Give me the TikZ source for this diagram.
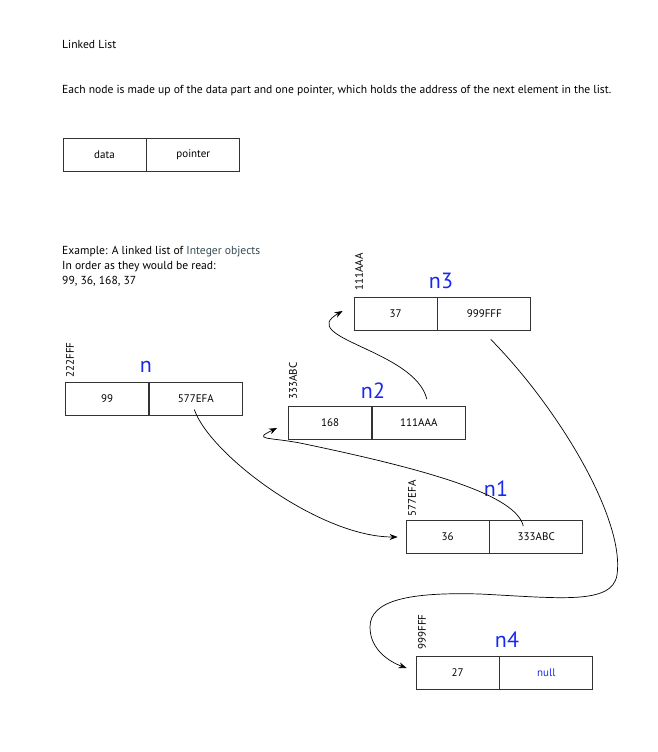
\documentclass[tikz,border=0pt]{standalone}
\usepackage{fontspec}
\setmainfont{PT Sans}
\usetikzlibrary{arrows.meta, positioning}
\definecolor{listblue}{RGB}{25,40,240}
\definecolor{slate}{RGB}{55,75,85}

\begin{document}
\begin{tikzpicture}[x=1pt, y=-1pt,
    cell/.style={rectangle, draw=black!80, line width=0.8pt, minimum height=33pt, inner sep=0pt, font=\fontsize{11}{13}\selectfont},
    datacell/.style={cell, minimum width=83pt},
    ptrcell/.style={cell, minimum width=93pt},
    listname/.style={font=\fontsize{22}{24}\selectfont, text=listblue, inner sep=0pt},
    address/.style={rotate=90, font=\fontsize{11}{13}\selectfont, inner sep=0pt},
    note/.style={font=\fontsize{11.6}{15}\selectfont, inner sep=0pt, anchor=west, align=left},
    link/.style={-{Stealth[length=8pt, width=6pt]}, line width=0.7pt}
]
\useasboundingbox (0,0) rectangle (657,752);

% Heading and explanation
\node[note] (title) at (62,44) {Linked List};
\node[note] (intro) at (62,91) {Each node is made up of the data part and one pointer, which holds the address of the next element in the list.};

% Layout of one node
\node[datacell] (demodata) at (104.5,154.5) {data};
\node[ptrcell, right=0pt of demodata] (demoptr) {pointer};

\node[note] (example) at (62,266) {Example: A linked list of \textcolor{slate}{Integer objects}\\In order as they would be read:\\99, 36, 168, 37};

% List nodes
\node[datacell] (ndata) at (107,398.5) {99};
\node[ptrcell, right=0pt of ndata] (nptr) {577EFA};
\node[datacell] (n2data) at (330,423) {168};
\node[ptrcell, right=0pt of n2data] (n2ptr) {111AAA};
\node[datacell] (n3data) at (395.5,313.5) {37};
\node[ptrcell, right=0pt of n3data] (n3ptr) {999FFF};
\node[datacell] (n1data) at (447.5,537) {36};
\node[ptrcell, right=0pt of n1data] (n1ptr) {333ABC};
\node[datacell] (n4data) at (457.5,672.5) {27};
\node[ptrcell, right=0pt of n4data, text=listblue] (n4ptr) {null};

% Names
\node[listname] (nname) at (146,367) {n};
\node[listname] (n2name) at (373,391) {n2};
\node[listname] (n3name) at (441,280.5) {n3};
\node[listname] (n1name) at (496,488.5) {n1};
\node[listname] (n4name) at (507,640) {n4};

% Addresses
\node[address] (naddr) at (70,360) {222FFF};
\node[address] (n2addr) at (293,381) {333ABC};
\node[address] (n3addr) at (359,272) {111AAA};
\node[address] (n1addr) at (412,498) {577EFA};
\node[address] (n4addr) at (422,632) {999FFF};

% Links
\coordinate (nsrc) at ([xshift=-1.5pt,yshift=-11pt]nptr.center);
\coordinate (n1tip) at ([xshift=-8pt]n1data.west);
\draw[link] (nsrc) .. controls (210,455) and (320,537) .. (n1tip);

\coordinate (n1src) at ([xshift=-13pt,yshift=-6pt]n1ptr.north);
\coordinate (n2tip) at ([xshift=-11pt,yshift=-5pt]n2data.west);
\draw[link] (n1src) .. controls (516,495) and (430,470) .. (300,443)
    .. controls (268,437) and (252,440) .. (n2tip);

\coordinate (n2src) at ([xshift=8pt,yshift=7pt]n2ptr.north);
\coordinate (n3tip) at ([xshift=-11pt,yshift=2.5pt]n3data.west);
\draw[link] (n2src) .. controls (415,350) and (295,338) .. (n3tip);

\coordinate (n3src) at ([xshift=6.5pt,yshift=-9pt]n3ptr.south);
\coordinate (n4tip) at ([xshift=-9pt,yshift=4.5pt]n4data.west);
\draw[link] (n3src) .. controls (560,410) and (625,520) .. (617,575)
    .. controls (612,605) and (560,598) .. (480,594)
    .. controls (410,592) and (370,600) .. (370,627)
    .. controls (370,650) and (390,662) .. (n4tip);
\end{tikzpicture}
\end{document}
